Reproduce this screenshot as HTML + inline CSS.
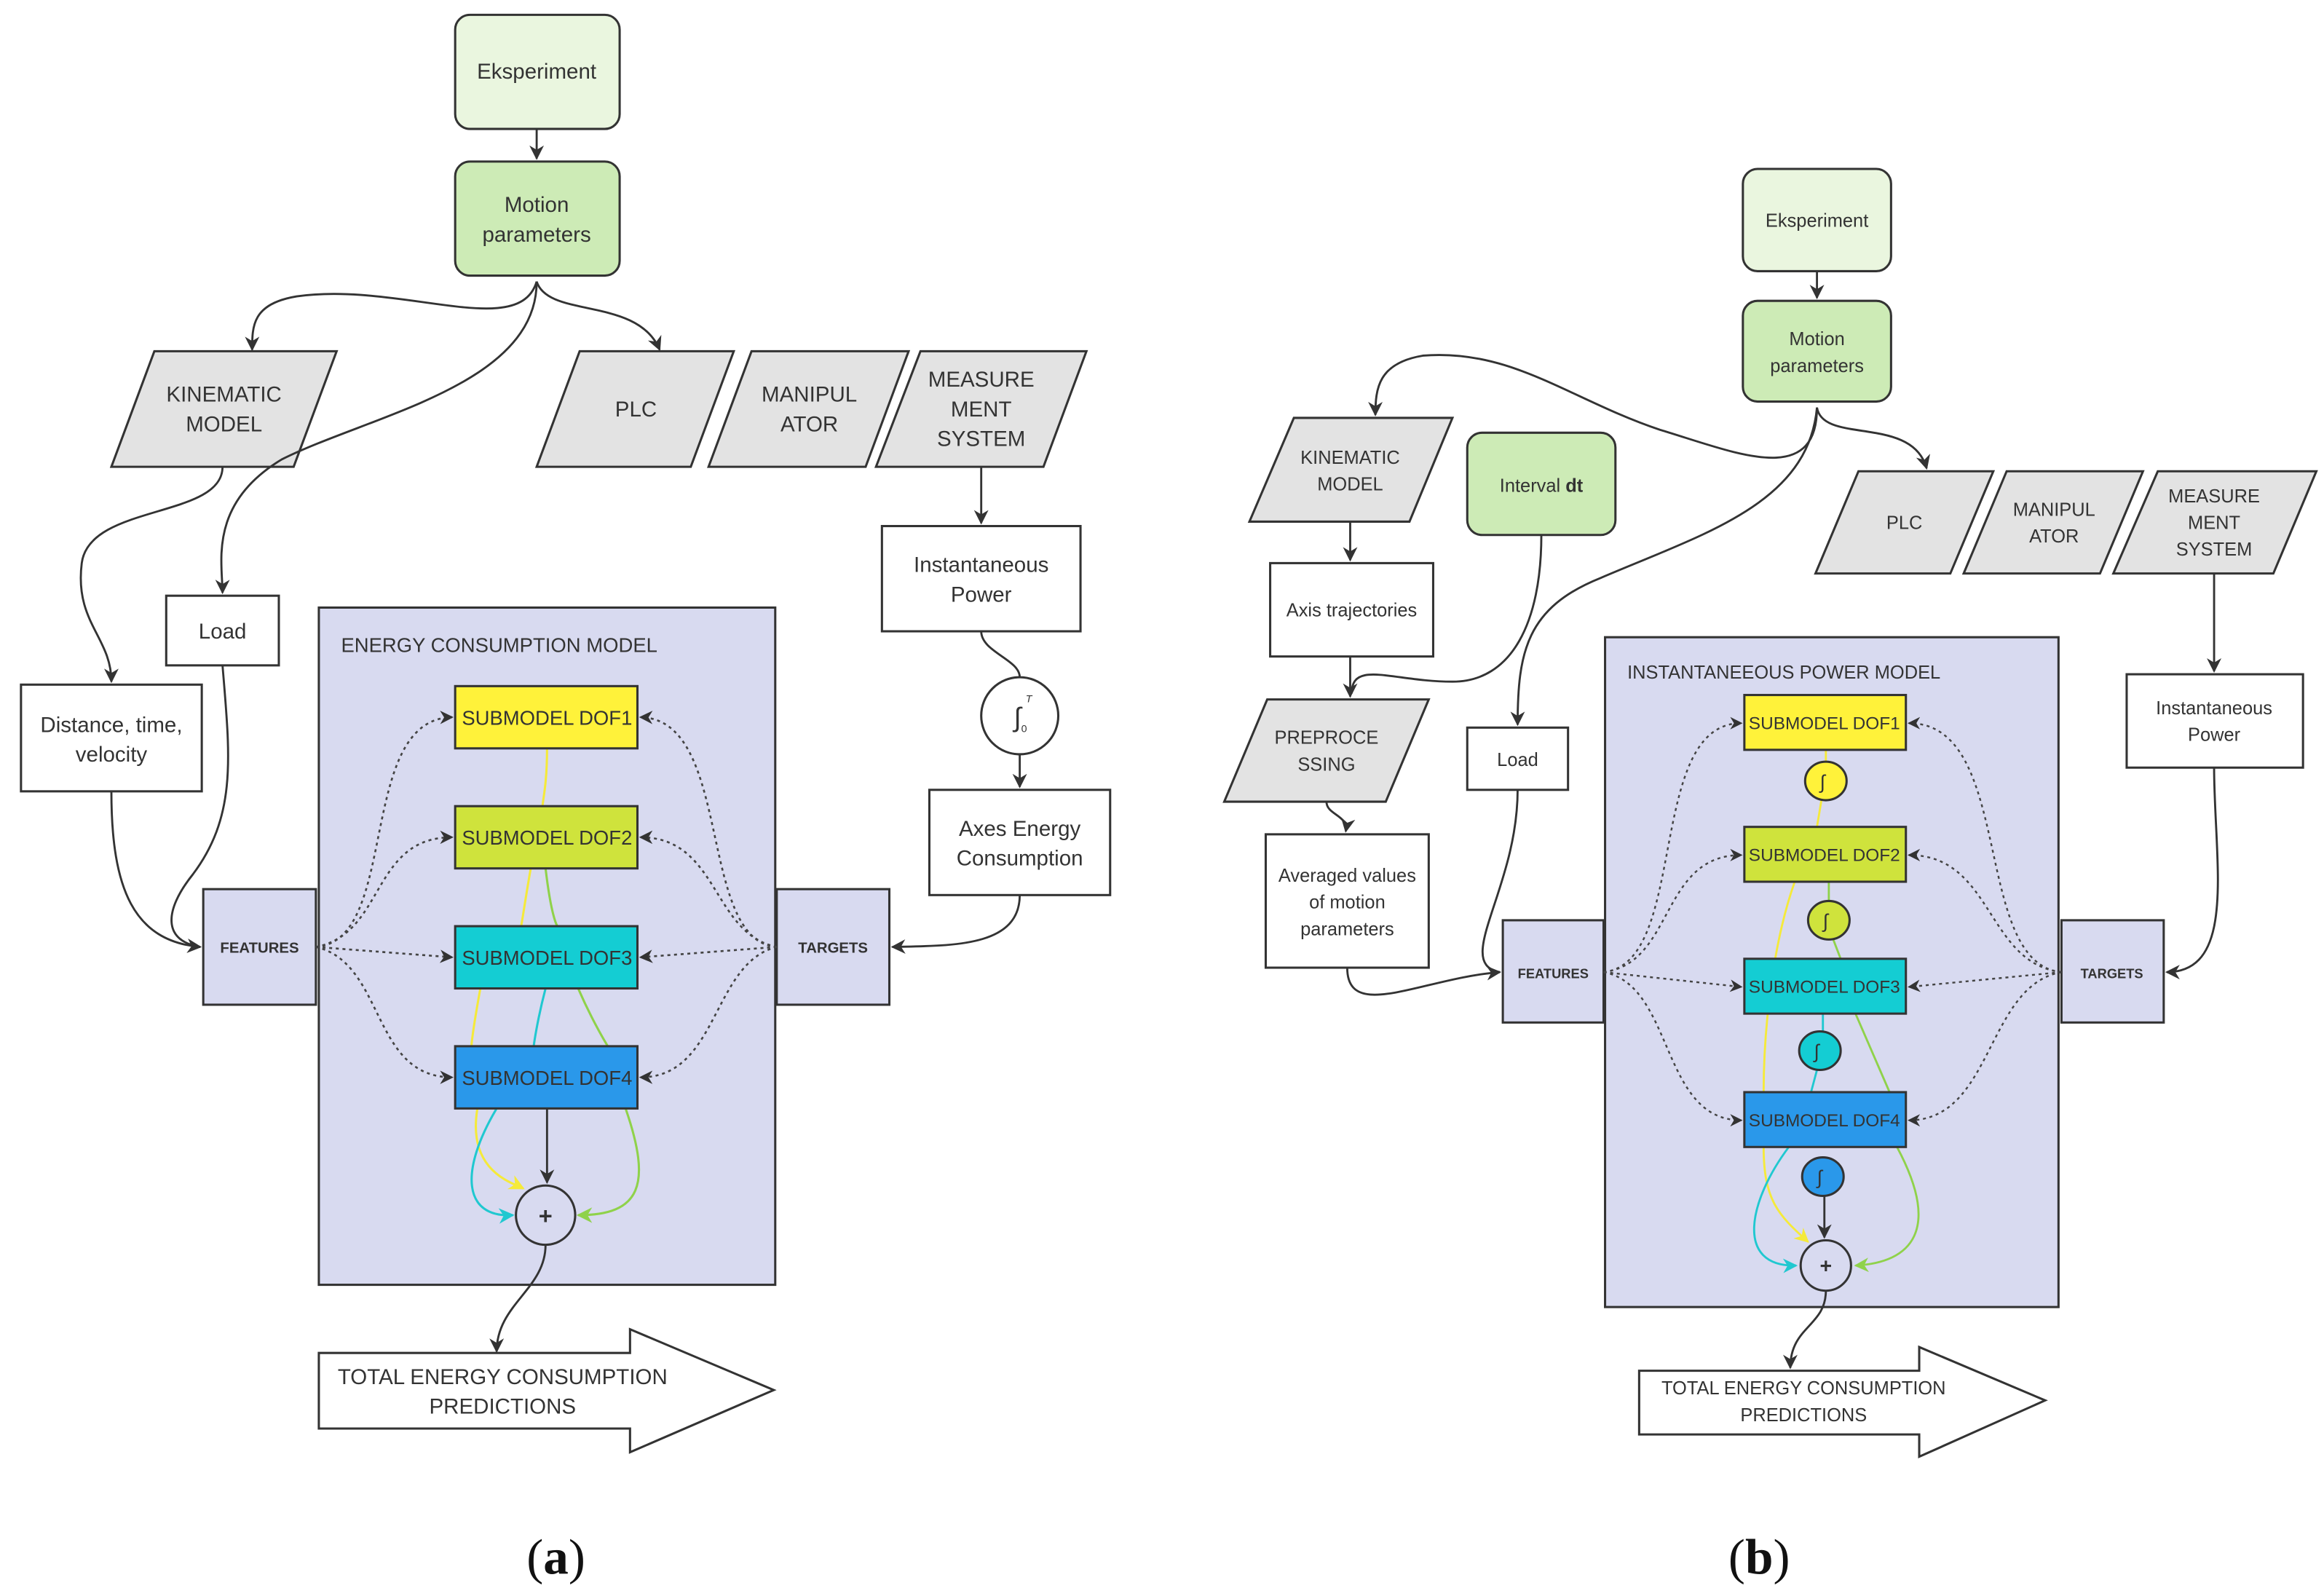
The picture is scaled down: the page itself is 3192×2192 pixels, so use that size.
<!DOCTYPE html>
<html><head><meta charset="utf-8">
<style>
html,body{margin:0;padding:0;background:#fff;}
svg{display:block;}
text{font-family:"Liberation Sans","DejaVu Sans",sans-serif;fill:#333;}
</style></head>
<body>
<svg width="3192" height="2192" viewBox="0 0 1568 1077" xmlns="http://www.w3.org/2000/svg">
<defs>
<marker id="ak" viewBox="0 0 10 10" refX="9" refY="5" markerWidth="7" markerHeight="7" orient="auto-start-reverse"><path d="M0,0 L10,5 L0,10 L3,5 z" fill="#333"/></marker>
<marker id="ay" viewBox="0 0 10 10" refX="9" refY="5" markerWidth="7" markerHeight="7" orient="auto"><path d="M0,0 L10,5 L0,10 L3,5 z" fill="#f5ea3a"/></marker>
<marker id="ac" viewBox="0 0 10 10" refX="9" refY="5" markerWidth="7" markerHeight="7" orient="auto"><path d="M0,0 L10,5 L0,10 L3,5 z" fill="#20c8d0"/></marker>
<marker id="ag" viewBox="0 0 10 10" refX="9" refY="5" markerWidth="7" markerHeight="7" orient="auto"><path d="M0,0 L10,5 L0,10 L3,5 z" fill="#8fd24a"/></marker>
</defs>
<rect width="1568" height="1077" fill="#fff"/>

<!-- ============ (a) ============ -->
<g stroke="#333" stroke-width="1.5">
<rect x="307" y="10" width="111" height="77" rx="10" fill="#eaf6df"/>
<rect x="307" y="109" width="111" height="77" rx="10" fill="#cdebb6"/>
<polygon points="104,237 227,237 198,315 75,315" fill="#e3e3e3"/>
<polygon points="391,237 495,237 466,315 362,315" fill="#e3e3e3"/>
<polygon points="507,237 613,237 584,315 478,315" fill="#e3e3e3"/>
<polygon points="621,237 733,237 704,315 591,315" fill="#e3e3e3"/>
<rect x="595" y="355" width="134" height="71" fill="#fff"/>
<circle cx="688" cy="483" r="26" fill="#fff"/>
<rect x="627" y="533" width="122" height="71" fill="#fff"/>
<rect x="112" y="402" width="76" height="47" fill="#fff"/>
<rect x="14" y="462" width="122" height="72" fill="#fff"/>
<rect x="215" y="410" width="308" height="457" fill="#d8daf0"/>
<rect x="137" y="600" width="76" height="78" fill="#d8daf0"/>
<rect x="524" y="600" width="76" height="78" fill="#d8daf0"/>
</g>
<g fill="none" stroke-width="1.5">
<path d="M369,505 C369,530 366,540 366,544" stroke="#f5ea3a"/>
<path d="M358,586 C352,620 350,640 350,625" stroke="#f5ea3a"/>
<path d="M368,586 C372,620 376,625 376,625" stroke="#8fd24a"/>
<path d="M324,667 C318,700 318,706 318,706" stroke="#f5ea3a"/>
<path d="M368,667 C362,690 360,706 360,706" stroke="#20c8d0"/>
<path d="M390,667 C400,690 410,706 410,706" stroke="#8fd24a"/>
<path d="M322,748 C315,790 345,798 353,802" stroke="#f5ea3a" marker-end="url(#ay)"/>
<path d="M335,748 C310,790 312,822 346,820" stroke="#20c8d0" marker-end="url(#ac)"/>
<path d="M422,748 C440,800 432,820 390,820" stroke="#8fd24a" marker-end="url(#ag)"/>
</g>
<g stroke="#333" stroke-width="1.5">
<rect x="307" y="463" width="123" height="42" fill="#fff23a"/>
<rect x="307" y="544" width="123" height="42" fill="#cfe33c"/>
<rect x="307" y="625" width="123" height="42" fill="#14cdd3"/>
<rect x="307" y="706" width="123" height="42" fill="#2a98ea"/>
<circle cx="368" cy="820" r="20" fill="#d8daf0"/>
<path d="M215,913 H425 V897 L522,938 L425,980 V964 H215 Z" fill="#fff"/>
</g>
<g fill="none" stroke="#333" stroke-width="1.4">
<path d="M362,87 V107" marker-end="url(#ak)"/>
<path d="M362,190 C350,230 270,190 200,200 C170,205 170,220 170,236" marker-end="url(#ak)"/>
<path d="M362,190 C370,215 430,200 445,236" marker-end="url(#ak)"/>
<path d="M362,190 C362,260 250,280 190,310 C140,340 150,380 150,400" marker-end="url(#ak)"/>
<path d="M150,315 C150,350 60,340 55,380 C50,420 75,430 75,460" marker-end="url(#ak)"/>
<path d="M662,315 V353" marker-end="url(#ak)"/>
<path d="M662,426 C662,440 688,445 688,457"/>
<path d="M688,509 V531" marker-end="url(#ak)"/>
<path d="M688,604 C688,640 640,638 602,639" marker-end="url(#ak)"/>
<path d="M75,534 C75,600 90,635 135,639" marker-end="url(#ak)"/>
<path d="M150,449 C155,510 160,550 130,590 C110,615 110,635 135,639"/>
<path d="M369,748 V798" marker-end="url(#ak)"/>
<path d="M368,840 C368,870 335,880 335,912" marker-end="url(#ak)"/>
</g>
<g fill="none" stroke="#444" stroke-width="1.3" stroke-dasharray="2,2.5">
<path d="M213,639 C270,635 240,485 305,484" marker-end="url(#ak)"/>
<path d="M213,639 C260,630 250,565 305,565" marker-end="url(#ak)"/>
<path d="M213,639 L305,646" marker-end="url(#ak)"/>
<path d="M213,639 C260,650 250,727 305,727" marker-end="url(#ak)"/>
<path d="M524,639 C470,635 495,485 432,484" marker-end="url(#ak)"/>
<path d="M524,639 C480,630 485,565 432,565" marker-end="url(#ak)"/>
<path d="M524,639 L432,646" marker-end="url(#ak)"/>
<path d="M524,639 C480,650 485,727 432,727" marker-end="url(#ak)"/>
</g>
<g font-size="14.5" text-anchor="middle">
<text x="362" y="53">Eksperiment</text>
<text x="362" y="143">Motion</text><text x="362" y="163">parameters</text>
<text x="151" y="271">KINEMATIC</text><text x="151" y="291">MODEL</text>
<text x="429" y="281">PLC</text>
<text x="546" y="271">MANIPUL</text><text x="546" y="291">ATOR</text>
<text x="662" y="261">MEASURE</text><text x="662" y="281">MENT</text><text x="662" y="301">SYSTEM</text>
<text x="662" y="386">Instantaneous</text><text x="662" y="406">Power</text>
<text x="688" y="564">Axes Energy</text><text x="688" y="584">Consumption</text>
<text x="150" y="431">Load</text>
<text x="75" y="494">Distance, time,</text><text x="75" y="514">velocity</text>
<text x="369" y="489" font-size="13.5">SUBMODEL DOF1</text>
<text x="369" y="570" font-size="13.5">SUBMODEL DOF2</text>
<text x="369" y="651" font-size="13.5">SUBMODEL DOF3</text>
<text x="369" y="732" font-size="13.5">SUBMODEL DOF4</text>
<text x="368" y="826" font-size="16" font-weight="bold">+</text>
<text x="339" y="934">TOTAL ENERGY CONSUMPTION</text><text x="339" y="954">PREDICTIONS</text>
<text x="175" y="643" font-size="10" font-weight="bold">FEATURES</text>
<text x="562" y="643" font-size="10" font-weight="bold">TARGETS</text>
</g>
<text x="230" y="440" font-size="13.5">ENERGY CONSUMPTION MODEL</text>
<text x="684" y="490" font-family="Liberation Serif" font-size="18" font-style="italic" fill="#222">∫</text>
<text x="692" y="474" font-family="Liberation Serif" font-size="7" font-style="italic" fill="#222">T</text>
<text x="689" y="494" font-family="Liberation Serif" font-size="7" fill="#222">0</text>

<!-- ============ (b) ============ -->
<g stroke="#333" stroke-width="1.5">
<rect x="1176" y="114" width="100" height="69" rx="10" fill="#eaf6df"/>
<rect x="1176" y="203" width="100" height="68" rx="10" fill="#cdebb6"/>
<polygon points="873,282 980,282 951,352 843,352" fill="#e3e3e3"/>
<rect x="990" y="292" width="100" height="69" rx="10" fill="#cdebb6"/>
<rect x="857" y="380" width="110" height="63" fill="#fff"/>
<polygon points="855,472 964,472 935,541 826,541" fill="#e3e3e3"/>
<rect x="854" y="563" width="110" height="90" fill="#fff"/>
<rect x="990" y="491" width="68" height="42" fill="#fff"/>
<polygon points="1254,318 1345,318 1316,387 1225,387" fill="#e3e3e3"/>
<polygon points="1354,318 1446,318 1417,387 1325,387" fill="#e3e3e3"/>
<polygon points="1456,318 1563,318 1534,387 1426,387" fill="#e3e3e3"/>
<rect x="1435" y="455" width="119" height="63" fill="#fff"/>
<rect x="1083" y="430" width="306" height="452" fill="#d8daf0"/>
<rect x="1014" y="621" width="68" height="69" fill="#d8daf0"/>
<rect x="1391" y="621" width="69" height="69" fill="#d8daf0"/>
</g>
<g fill="none" stroke-width="1.4">
<path d="M1232,506 V514" stroke="#f5ea3a"/>
<path d="M1229,540 L1226,558" stroke="#f5ea3a"/>
<path d="M1234,595 V608" stroke="#8fd24a"/>
<path d="M1211,595 C1195,640 1190,700 1190,737" stroke="#f5ea3a"/>
<path d="M1237,634 L1242,647" stroke="#8fd24a"/>
<path d="M1230,684 V696" stroke="#20c8d0"/>
<path d="M1226,722 L1222,737" stroke="#20c8d0"/>
<path d="M1252,684 L1275,737" stroke="#8fd24a"/>
<path d="M1190,774 C1190,810 1200,820 1220,838" stroke="#f5ea3a" marker-end="url(#ay)"/>
<path d="M1207,774 C1180,810 1170,855 1212,854" stroke="#20c8d0" marker-end="url(#ac)"/>
<path d="M1280,774 C1310,830 1290,852 1252,854" stroke="#8fd24a" marker-end="url(#ag)"/>
</g>
<g stroke="#333" stroke-width="1.5">
<rect x="1177" y="469" width="109" height="37" fill="#fff23a"/>
<rect x="1177" y="558" width="109" height="37" fill="#cfe33c"/>
<rect x="1177" y="647" width="109" height="37" fill="#14cdd3"/>
<rect x="1177" y="737" width="109" height="37" fill="#2a98ea"/>
<ellipse cx="1232" cy="527" rx="14" ry="13" fill="#fff23a"/>
<ellipse cx="1234" cy="621" rx="14" ry="13" fill="#cfe33c"/>
<ellipse cx="1228" cy="709" rx="14" ry="13" fill="#14cdd3"/>
<ellipse cx="1230" cy="794" rx="14" ry="13" fill="#2a98ea"/>
<circle cx="1232" cy="854" r="17" fill="#d8daf0"/>
<path d="M1106,925 H1295 V909 L1380,945 L1295,983 V968 H1106 Z" fill="#fff"/>
</g>
<g fill="none" stroke="#333" stroke-width="1.4">
<path d="M1226,183 V201" marker-end="url(#ak)"/>
<path d="M1226,275 C1226,330 1170,305 1120,290 C1060,270 1020,235 960,240 C930,245 928,262 928,280" marker-end="url(#ak)"/>
<path d="M1226,275 C1230,300 1290,280 1300,316" marker-end="url(#ak)"/>
<path d="M1226,275 C1220,340 1150,360 1080,390 C1030,410 1024,440 1024,489" marker-end="url(#ak)"/>
<path d="M911,352 V378" marker-end="url(#ak)"/>
<path d="M911,443 V470" marker-end="url(#ak)"/>
<path d="M1040,361 C1040,420 1020,460 980,460 C940,460 912,445 912,468"/>
<path d="M895,541 C895,550 910,550 908,561" marker-end="url(#ak)"/>
<path d="M909,653 C909,690 960,660 1012,656" marker-end="url(#ak)"/>
<path d="M1024,533 C1024,600 980,650 1012,656"/>
<path d="M1494,387 V453" marker-end="url(#ak)"/>
<path d="M1494,518 C1494,580 1510,656 1462,656" marker-end="url(#ak)"/>
<path d="M1231,807 V835" marker-end="url(#ak)"/>
<path d="M1232,871 C1232,895 1208,895 1208,923" marker-end="url(#ak)"/>
</g>
<g fill="none" stroke="#444" stroke-width="1.2" stroke-dasharray="2,2.5">
<path d="M1082,656 C1140,650 1110,488 1175,488" marker-end="url(#ak)"/>
<path d="M1082,656 C1130,650 1120,577 1175,577" marker-end="url(#ak)"/>
<path d="M1082,656 L1175,666" marker-end="url(#ak)"/>
<path d="M1082,656 C1130,665 1120,756 1175,756" marker-end="url(#ak)"/>
<path d="M1391,656 C1330,650 1360,488 1288,488" marker-end="url(#ak)"/>
<path d="M1391,656 C1340,650 1345,577 1288,577" marker-end="url(#ak)"/>
<path d="M1391,656 L1288,666" marker-end="url(#ak)"/>
<path d="M1391,656 C1340,665 1345,756 1288,756" marker-end="url(#ak)"/>
</g>
<g font-size="12.5" text-anchor="middle">
<text x="1226" y="153">Eksperiment</text>
<text x="1226" y="233">Motion</text><text x="1226" y="251">parameters</text>
<text x="911" y="313">KINEMATIC</text><text x="911" y="331">MODEL</text>
<text x="1040" y="332">Interval <tspan font-weight="bold">dt</tspan></text>
<text x="912" y="416">Axis trajectories</text>
<text x="895" y="502">PREPROCE</text><text x="895" y="520">SSING</text>
<text x="909" y="595">Averaged values</text><text x="909" y="613">of motion</text><text x="909" y="631">parameters</text>
<text x="1024" y="517">Load</text>
<text x="1285" y="357">PLC</text>
<text x="1386" y="348">MANIPUL</text><text x="1386" y="366">ATOR</text>
<text x="1494" y="339">MEASURE</text><text x="1494" y="357">MENT</text><text x="1494" y="375">SYSTEM</text>
<text x="1494" y="482">Instantaneous</text><text x="1494" y="500">Power</text>
<text x="1231" y="492" font-size="12">SUBMODEL DOF1</text>
<text x="1231" y="581" font-size="12">SUBMODEL DOF2</text>
<text x="1231" y="670" font-size="12">SUBMODEL DOF3</text>
<text x="1231" y="760" font-size="12">SUBMODEL DOF4</text>
<text x="1232" y="859" font-size="14" font-weight="bold">+</text>
<text x="1217" y="941">TOTAL ENERGY CONSUMPTION</text><text x="1217" y="959">PREDICTIONS</text>
<text x="1048" y="660" font-size="9" font-weight="bold">FEATURES</text>
<text x="1425" y="660" font-size="9" font-weight="bold">TARGETS</text>
</g>
<text x="1098" y="458" font-size="12.5">INSTANTANEEOUS POWER MODEL</text>
<g font-family="Liberation Serif" font-style="italic" fill="#222">
<text x="1228" y="532" font-size="13">∫</text>
<text x="1230" y="626" font-size="13">∫</text>
<text x="1224" y="714" font-size="13">∫</text>
<text x="1226" y="799" font-size="13">∫</text>
</g>

<g font-family="Liberation Serif" font-size="34" text-anchor="middle" fill="#111">
<text x="375" y="1062" style="font-family:'Liberation Serif',serif;fill:#111">(<tspan font-weight="bold">a</tspan>)</text>
<text x="1187" y="1062" style="font-family:'Liberation Serif',serif;fill:#111">(<tspan font-weight="bold">b</tspan>)</text>
</g>
</svg>
</body></html>
